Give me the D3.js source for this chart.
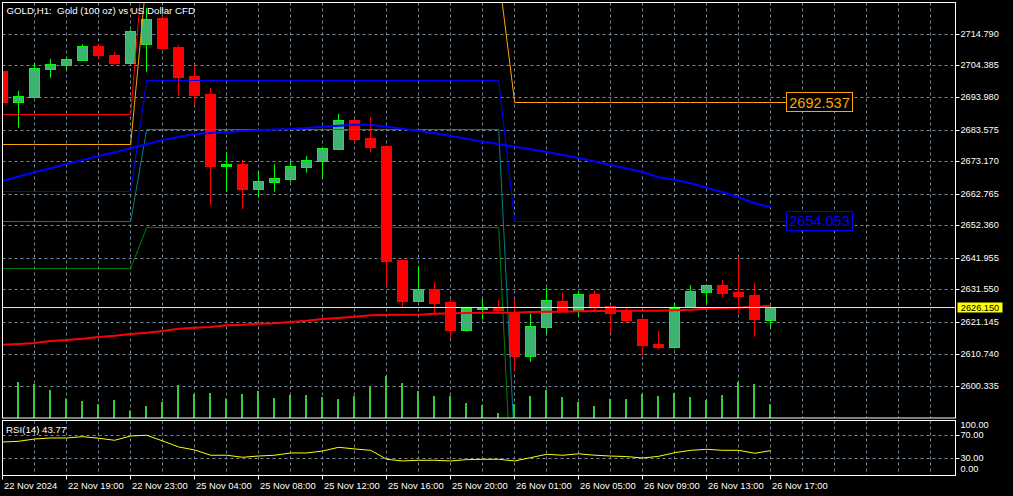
<!DOCTYPE html>
<html>
<head>
<meta charset="utf-8">
<script src="https://cdn.jsdelivr.net/npm/d3@7"></script>
<style>
html, body { margin: 0; padding: 0; background: #000; overflow: hidden; }
svg { display: block; }
text { font-family: "Liberation Sans", Arial, sans-serif; }
</style>
</head>
<body>
<div id="chart"></div>
<script>
// ---- data (GOLD H1, 22 Nov 15:00 .. 26 Nov 17:00) ----
var timeLabels = ['22 Nov 2024', '22 Nov 19:00', '22 Nov 23:00', '25 Nov 04:00', '25 Nov 08:00',
    '25 Nov 12:00', '25 Nov 16:00', '25 Nov 20:00', '26 Nov 01:00', '26 Nov 05:00',
    '26 Nov 09:00', '26 Nov 13:00', '26 Nov 17:00'];
var timeTickIdx = [0, 4, 8, 12, 16, 20, 24, 28, 32, 36, 40, 44, 48];

var opens = [2702.76, 2692.78, 2694.40, 2703.51, 2704.81, 2706.43, 2710.89, 2707.86, 2705.46, 2711.70,
    2720.09, 2710.56, 2701.13, 2695.28, 2672.03, 2672.52, 2664.49, 2666.77, 2667.74, 2671.64,
    2673.59, 2677.49, 2686.83, 2680.97, 2678.37, 2641.30, 2628.07, 2631.77, 2627.65, 2618.55,
    2625.37, 2626.02, 2624.40, 2610.19, 2619.61, 2627.97, 2625.05, 2630.35, 2626.44, 2624.62,
    2622.12, 2613.99, 2613.11, 2625.86, 2630.99, 2633.17, 2630.99, 2629.92, 2621.89];
var highs = [2703.20, 2696.25, 2705.26, 2706.66, 2707.41, 2711.44, 2711.64, 2708.94, 2716.09, 2723.24,
    2720.64, 2711.21, 2704.38, 2697.23, 2676.32, 2673.82, 2670.15, 2672.52, 2673.50, 2675.12,
    2677.72, 2688.78, 2686.99, 2687.80, 2678.70, 2641.63, 2639.35, 2634.15, 2628.30, 2626.12,
    2628.62, 2628.30, 2628.52, 2623.97, 2632.30, 2630.67, 2630.99, 2631.22, 2626.51, 2625.92,
    2622.54, 2618.22, 2627.42, 2633.17, 2633.33, 2634.80, 2642.18, 2633.92, 2626.30];
var lows = [2692.50, 2684.32, 2694.30, 2700.58, 2703.08, 2706.43, 2706.66, 2704.71, 2705.36, 2702.53,
    2709.75, 2694.73, 2691.93, 2659.19, 2663.52, 2657.90, 2661.70, 2663.52, 2666.67, 2669.69,
    2667.87, 2677.40, 2679.58, 2676.42, 2632.85, 2626.12, 2627.97, 2623.97, 2615.94, 2617.99,
    2622.02, 2624.72, 2604.98, 2608.23, 2617.25, 2624.40, 2622.87, 2624.72, 2617.67, 2620.92,
    2610.41, 2612.27, 2612.47, 2625.86, 2627.22, 2629.04, 2623.97, 2616.37, 2619.42];
var closes = [2692.78, 2694.63, 2703.64, 2704.94, 2706.66, 2710.89, 2708.06, 2705.26, 2715.77, 2719.67,
    2710.24, 2700.91, 2694.96, 2671.97, 2672.52, 2664.39, 2666.99, 2667.97, 2671.87, 2673.82,
    2677.62, 2686.73, 2680.65, 2678.15, 2640.98, 2627.97, 2631.77, 2627.42, 2618.55, 2625.60,
    2625.92, 2625.14, 2610.19, 2619.74, 2628.30, 2625.05, 2630.15, 2626.02, 2624.17, 2621.80,
    2613.66, 2613.11, 2625.79, 2631.22, 2633.17, 2630.67, 2629.69, 2622.12, 2626.15];
var volumes = [6000, 7200, 6800, 5600, 3900, 3400, 2800, 3600, 1500, 2400,
    3200, 6600, 4800, 5000, 3900, 4800, 5400, 4000, 4600, 4600,
    4200, 3800, 4400, 6300, 8400, 7000, 5400, 4400, 4400, 3000,
    2600, 1000, 2800, 4400, 5600, 4200, 3200, 2400, 3800, 3800,
    4800, 4400, 5000, 4200, 3600, 4600, 7200, 6800, 2800];

// moving averages (blue = slow, red = slower)
var maBlue = [2667.09, 2668.46, 2669.82, 2671.15, 2672.52, 2673.82, 2675.12, 2676.36, 2677.62, 2678.92,
    2680.32, 2681.30, 2682.27, 2682.60, 2682.92, 2683.25, 2683.48, 2683.74, 2683.90, 2684.22,
    2684.65, 2684.97, 2685.30, 2685.30, 2684.65, 2684.00, 2683.35, 2682.50, 2681.62, 2680.75,
    2679.77, 2679.02, 2678.15, 2677.30, 2676.42, 2675.45, 2674.47, 2673.33, 2672.19, 2671.06,
    2669.92, 2668.20, 2667.41, 2666.24, 2664.81, 2663.32, 2661.69, 2659.74, 2658.44];
var maRed = [2613.76, 2613.99, 2614.32, 2614.97, 2615.29, 2615.72, 2616.27, 2616.69, 2617.24, 2617.66,
    2618.22, 2618.96, 2619.29, 2619.52, 2620.07, 2620.27, 2620.59, 2620.72, 2621.15, 2621.57,
    2622.12, 2622.45, 2622.87, 2623.32, 2623.42, 2623.52, 2623.52, 2623.84, 2623.97, 2624.07,
    2624.17, 2624.17, 2624.17, 2624.40, 2624.50, 2624.50, 2624.62, 2624.72, 2624.72, 2624.82,
    2624.82, 2624.82, 2624.95, 2625.14, 2625.47, 2625.70, 2625.79, 2626.12, 2626.44];

var rsi = [59.2, 60.5, 64.6, 66.4, 66.4, 68.8, 65.9, 62.3, 70.0, 71.3,
    61.0, 50.3, 44.9, 35.4, 35.4, 31.8, 34.1, 35.4, 39.5, 39.5,
    43.1, 49.7, 46.7, 44.3, 28.2, 25.2, 26.4, 26.4, 25.2, 27.5,
    28.2, 28.2, 25.2, 31.1, 37.2, 35.4, 38.0, 35.5, 34.0, 33.0,
    30.5, 33.5, 40.0, 44.3, 46.1, 44.3, 44.3, 39.0, 43.77];

// daily levels: one value per trading day, day starts at these candle indices
var dayStart = [0, 9, 32];
var levelRed = [2688.78, 2751.70, 2741.00];
var levelOrange = [2678.92, 2734.30, 2692.537];
var levelBlue = [2663.64, 2699.73, 2654.053];
var levelTeal = [2653.89, 2683.80, 2580.17];
var levelGreen = [2638.60, 2651.94, 2547.10];

var priceTicks = [2714.790, 2704.385, 2693.980, 2683.575, 2673.170, 2662.765, 2652.360,
    2641.955, 2631.550, 2621.145, 2610.740, 2600.335];
var rsiTicks = [100, 70, 30, 0];
var rsiGrid = [70, 30];
var lastPrice = 2626.150;
var titleText = 'GOLD,H1:\u00a0 Gold (100 oz) vs US Dollar CFD';

// ---- layout ----
var W = 1013, H = 496;
var panel = { left: 2.5, right: 955.5, top: 2.5, bottom: 418 };
var sub = { top: 420.5, bottom: 475.5 };
var GRID = '#778899';
var FONT = 9.2;

var svg = d3.select('#chart').append('svg')
    .attr('width', W)
    .attr('height', H);

svg.append('rect').attr('width', W).attr('height', H).attr('fill', '#000');

var x = d3.scaleLinear().domain([0, 48]).range([2.7, 770.7]);
var y = d3.scaleLinear().domain([2600.335, 2714.790]).range([386, 34]);
var yVol = d3.scaleLinear().domain([0, 10000]).range([418, 368]);
var yRsi = d3.scaleLinear().domain([0, 100]).range([475, 419.25]);

function px(v) { return Math.floor(v) + 0.5; }

var defs = svg.append('defs');
defs.append('clipPath').attr('id', 'clipMain').append('rect')
    .attr('x', panel.left).attr('y', panel.top)
    .attr('width', panel.right - panel.left).attr('height', panel.bottom - panel.top);
defs.append('clipPath').attr('id', 'clipSub').append('rect')
    .attr('x', panel.left).attr('y', sub.top)
    .attr('width', panel.right - panel.left).attr('height', sub.bottom - sub.top);

// ---- grid ----
var gridX = d3.range(2, 60, 2);
var grid = svg.append('g')
    .attr('stroke', GRID)
    .attr('stroke-width', 1)
    .attr('stroke-dasharray', '3,3');

grid.selectAll('line.vm').data(gridX).enter().append('line')
    .attr('x1', function(d) { return px(x(d)); })
    .attr('x2', function(d) { return px(x(d)); })
    .attr('y1', panel.top).attr('y2', panel.bottom);
grid.selectAll('line.vs').data(gridX).enter().append('line')
    .attr('x1', function(d) { return px(x(d)); })
    .attr('x2', function(d) { return px(x(d)); })
    .attr('y1', sub.top).attr('y2', sub.bottom);
grid.selectAll('line.hm').data(priceTicks).enter().append('line')
    .attr('x1', panel.left).attr('x2', panel.right)
    .attr('y1', function(d) { return px(y(d)); })
    .attr('y2', function(d) { return px(y(d)); });
grid.selectAll('line.hs').data(rsiGrid).enter().append('line')
    .attr('x1', panel.left).attr('x2', panel.right)
    .attr('y1', function(d) { return px(yRsi(d)); })
    .attr('y2', function(d) { return px(yRsi(d)); });

var main = svg.append('g').attr('clip-path', 'url(#clipMain)');

// ---- volumes ----
main.append('g').selectAll('rect').data(volumes).enter().append('rect')
    .attr('x', function(d, i) { return Math.floor(x(i)) - 1; })
    .attr('width', 2)
    .attr('y', function(d) { return yVol(d); })
    .attr('height', function(d) { return yVol(0) - yVol(d); })
    .attr('fill', '#32CD32');

// ---- candles ----
var candles = opens.map(function(o, i) {
    return { i: i, o: o, h: highs[i], l: lows[i], c: closes[i], up: closes[i] >= o };
});

var cg = main.append('g').selectAll('g').data(candles).enter().append('g');

cg.append('line')
    .attr('x1', function(d) { return px(x(d.i)); })
    .attr('x2', function(d) { return px(x(d.i)); })
    .attr('y1', function(d) { return y(d.h); })
    .attr('y2', function(d) { return y(d.l); })
    .attr('stroke', function(d) { return d.up ? '#00FF00' : '#FF0000'; })
    .attr('stroke-width', 1);

cg.append('rect')
    .attr('x', function(d) { return px(x(d.i)) - 5; })
    .attr('width', 10)
    .attr('y', function(d) { return Math.round(y(Math.max(d.o, d.c))) + 0.5; })
    .attr('height', function(d) {
        return Math.max(1, Math.round(y(Math.min(d.o, d.c))) - Math.round(y(Math.max(d.o, d.c))));
    })
    .attr('fill', function(d) { return d.up ? '#3CB371' : '#FF0000'; })
    .attr('stroke', function(d) { return d.up ? '#00FF00' : '#FF0000'; })
    .attr('stroke-width', 1);

// ---- daily level lines ----
var labelX = x(48) + 15.3;

function levelPoints(levels) {
    var pts = candles.map(function(c) {
        var d = 0;
        dayStart.forEach(function(s, k) { if (c.i >= s) d = k; });
        return [x(c.i), y(levels[d])];
    });
    pts.push([labelX, y(levels[levels.length - 1])]);
    return pts;
}

var levelLine = d3.line()
    .x(function(d) { return d[0]; })
    .y(function(d) { return Math.round(d[1]) + 0.5; });

[[levelRed, '#FF0000'], [levelOrange, '#FFA500'], [levelBlue, '#0000FF'],
 [levelTeal, '#008080'], [levelGreen, '#008000']].forEach(function(s) {
    main.append('path')
        .attr('d', levelLine(levelPoints(s[0])))
        .attr('fill', 'none')
        .attr('stroke', s[1])
        .attr('stroke-width', 1);
});

// ---- moving averages ----
var maLine = d3.line()
    .x(function(d, i) { return x(i); })
    .y(function(d) { return y(d); });

main.append('path').attr('d', maLine(maBlue))
    .attr('fill', 'none').attr('stroke', '#0000FF').attr('stroke-width', 2);
main.append('path').attr('d', maLine(maRed))
    .attr('fill', 'none').attr('stroke', '#FF0000').attr('stroke-width', 2);

// ---- bid line ----
svg.append('line')
    .attr('x1', panel.left).attr('x2', panel.right)
    .attr('y1', Math.round(y(lastPrice)) + 0.5)
    .attr('y2', Math.round(y(lastPrice)) + 0.5)
    .attr('stroke', '#FFFF00').attr('stroke-width', 1);

// ---- level labels ----
[[levelOrange, '#FFA500'], [levelBlue, '#0000FF']].forEach(function(s) {
    var v = s[0][s[0].length - 1];
    var cy = y(v);
    var g = svg.append('g');
    g.append('rect')
        .attr('x', Math.round(labelX) + 0.5)
        .attr('y', Math.round(cy - 10) + 0.5)
        .attr('width', 66).attr('height', 19)
        .attr('fill', '#000').attr('stroke', s[1]).attr('stroke-width', 1);
    g.append('text')
        .attr('x', Math.round(labelX) + 33.5)
        .attr('y', cy + 5.3)
        .attr('text-anchor', 'middle')
        .attr('font-size', 14.5)
        .attr('fill', s[1])
        .text(v.toFixed(3));
});

// ---- RSI ----
var rsiLine = d3.line()
    .x(function(d, i) { return x(i); })
    .y(function(d) { return yRsi(d); });
svg.append('g').attr('clip-path', 'url(#clipSub)')
    .append('path').attr('d', rsiLine(rsi))
    .attr('fill', 'none').attr('stroke', '#FFFF00').attr('stroke-width', 1);

// ---- panel borders ----
svg.append('rect')
    .attr('x', panel.left).attr('y', panel.top)
    .attr('width', panel.right - panel.left).attr('height', panel.bottom - panel.top)
    .attr('fill', 'none').attr('stroke', '#fff').attr('stroke-width', 1);
svg.append('rect')
    .attr('x', panel.left).attr('y', sub.top)
    .attr('width', panel.right - panel.left).attr('height', sub.bottom - sub.top)
    .attr('fill', 'none').attr('stroke', '#fff').attr('stroke-width', 1);

// ---- axes ----
function styleAxis(g) {
    g.select('.domain').remove();
    g.selectAll('.tick line').attr('stroke', '#fff');
    g.selectAll('.tick text').attr('fill', '#fff').attr('font-size', FONT)
        .attr('font-family', '"Liberation Sans", Arial, sans-serif');
}

var priceAxis = svg.append('g')
    .attr('transform', 'translate(' + panel.right + ',0)')
    .call(d3.axisRight(y).tickValues(priceTicks).tickSize(4).tickPadding(1)
        .tickFormat(d3.format('.3f')));
styleAxis(priceAxis);
priceAxis.selectAll('.tick').attr('transform', function(d) {
    return 'translate(0,' + px(y(d)) + ')';
});

var rsiAxis = svg.append('g')
    .attr('transform', 'translate(' + panel.right + ',0)')
    .call(d3.axisRight(yRsi).tickValues(rsiTicks).tickSize(4).tickPadding(1)
        .tickFormat(d3.format('.2f')));
styleAxis(rsiAxis);
rsiAxis.selectAll('.tick').attr('transform', function(d) {
    var cy = yRsi(d);
    if (d === 100) cy += 6;
    if (d === 0) cy -= 5.3;
    return 'translate(0,' + px(cy) + ')';
});
rsiAxis.selectAll('.tick line').attr('stroke-opacity', function(d) {
    return (d === 100 || d === 0) ? 0 : 1;
});

var timeAxis = svg.append('g')
    .attr('transform', 'translate(0,' + sub.bottom + ')')
    .call(d3.axisBottom(x).tickValues(timeTickIdx).tickSize(4).tickPadding(3)
        .tickFormat(function(d, i) { return timeLabels[i]; }));
styleAxis(timeAxis);
timeAxis.selectAll('.tick').attr('transform', function(d) {
    return 'translate(' + px(x(d)) + ',0)';
});
timeAxis.selectAll('.tick text')
    .attr('text-anchor', 'start')
    .attr('x', 1.5)
    .attr('font-size', 9.4);

// ---- current price tag ----
var tagY = Math.round(y(lastPrice));
svg.append('rect')
    .attr('x', panel.right + 2).attr('y', tagY - 4.5)
    .attr('width', 45).attr('height', 10)
    .attr('fill', '#FFFF00');
svg.append('text')
    .attr('x', panel.right + 24.5).attr('y', tagY + 4)
    .attr('text-anchor', 'middle')
    .attr('font-size', FONT)
    .attr('fill', '#000')
    .text(lastPrice.toFixed(3));

// ---- titles ----
svg.append('text')
    .attr('x', 6.5).attr('y', 13.8)
    .attr('font-size', 9.7)
    .attr('fill', '#fff')
    .text(titleText);
svg.append('text')
    .attr('x', 6).attr('y', 432.8)
    .attr('font-size', 9.7)
    .attr('fill', '#fff')
    .text('RSI(14) ' + rsi[rsi.length - 1].toFixed(2));
</script>
</body>
</html>
